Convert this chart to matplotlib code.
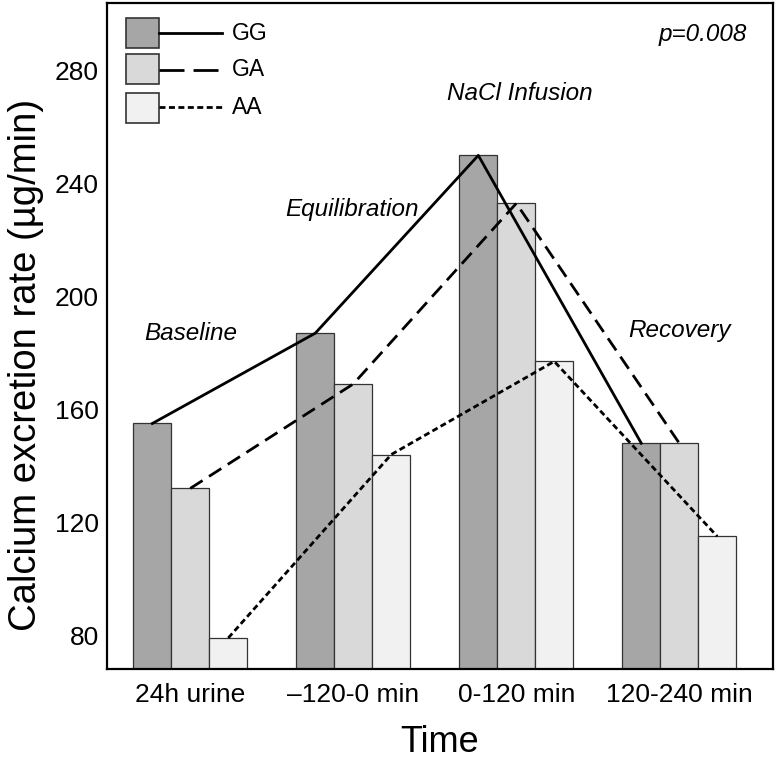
import numpy as np
import matplotlib.pyplot as plt
from matplotlib.patches import Rectangle
from matplotlib.lines import Line2D

plt.rcParams['font.family'] = ['Liberation Sans', 'DejaVu Sans']
plt.rcParams['lines.scale_dashes'] = False

# Data
periods = ["24h urine", "\u2013120-0 min", "0-120 min", "120-240 min"]
genotypes = ["GG", "GA", "AA"]
gg = [155, 187, 250, 148]
ga = [132, 169, 233, 148]
aa = [79, 144, 177, 115]
phases = ["Baseline", "Equilibration", "NaCl Infusion", "Recovery"]
phase_y = [187, 231, 272, 188]
phase_x = [0.0, 0.99, 2.02, 3.0]
yticks = [80, 120, 160, 200, 240, 280]

# Styles
colors = ["#a6a6a6", "#d9d9d9", "#f1f1f1"]
dashes = [None, (10.5, 5.5), (4.3, 2.5)]
width = 0.233
offsets = [-width, 0, width]

fig = plt.figure(figsize=(7.76, 7.61), dpi=100)
ax = fig.add_axes([107 / 776, 92 / 761, 666 / 776, 666 / 761])

x = np.arange(len(periods))
for vals, col, off in zip([gg, ga, aa], colors, offsets):
    ax.bar(x + off, vals, width=width, color=col, edgecolor="#333333",
           linewidth=0.9, zorder=2)
for vals, off, ds in zip([gg, ga, aa], offsets, dashes):
    if ds is None:
        ax.plot(x + off, vals, color="black", lw=2, zorder=3)
    else:
        ax.plot(x + off, vals, color="black", lw=2, dashes=ds, zorder=3)

ax.set_xlim(-0.511, 3.575)
ax.set_ylim(68, 304)
ax.set_xticks(x)
ax.set_xticklabels(periods)
ax.set_yticks(yticks)
ax.tick_params(length=0, labelsize=19)
ax.tick_params(axis="x", pad=10)
ax.tick_params(axis="y", pad=6)
for s in ax.spines.values():
    s.set_linewidth(1.6)

ax.set_ylabel("Calcium excretion rate (\u00b5g/min)", fontsize=27.5)
ax.yaxis.set_label_coords(-0.095, 0.456)
ax.set_xlabel("Time", fontsize=26)
ax.xaxis.set_label_coords(0.5, -0.084)

for px, py, txt in zip(phase_x, phase_y, phases):
    ax.text(px, py, txt, fontsize=17.5, style="italic", ha="center", va="center")
ax.text(0.961, 0.953, "p=0.008", transform=ax.transAxes, fontsize=17.5,
        style="italic", ha="right", va="center")

# Legend: box + line + label
box_y = [0.9329, 0.878, 0.8194]
line_y = [0.9545, 0.900, 0.8438]
leg_dashes = [None, (18, 6.5), (4.3, 2.5)]
for name, col, by, ly, ds in zip(genotypes, colors, box_y, line_y, leg_dashes):
    ax.add_patch(Rectangle((0.0281, by), 0.0495, 0.045, transform=ax.transAxes,
                           facecolor=col, edgecolor="#333333", lw=1.2, zorder=4))
    ln = Line2D([0.0776, 0.1731], [ly, ly], transform=ax.transAxes,
                color="black", lw=2, zorder=4)
    if ds is not None:
        ln.set_dashes(ds)
    ax.add_line(ln)
    ax.text(0.1872, ly, name, transform=ax.transAxes, fontsize=16.5,
            ha="left", va="center")

fig.savefig("out.png", dpi=100)
